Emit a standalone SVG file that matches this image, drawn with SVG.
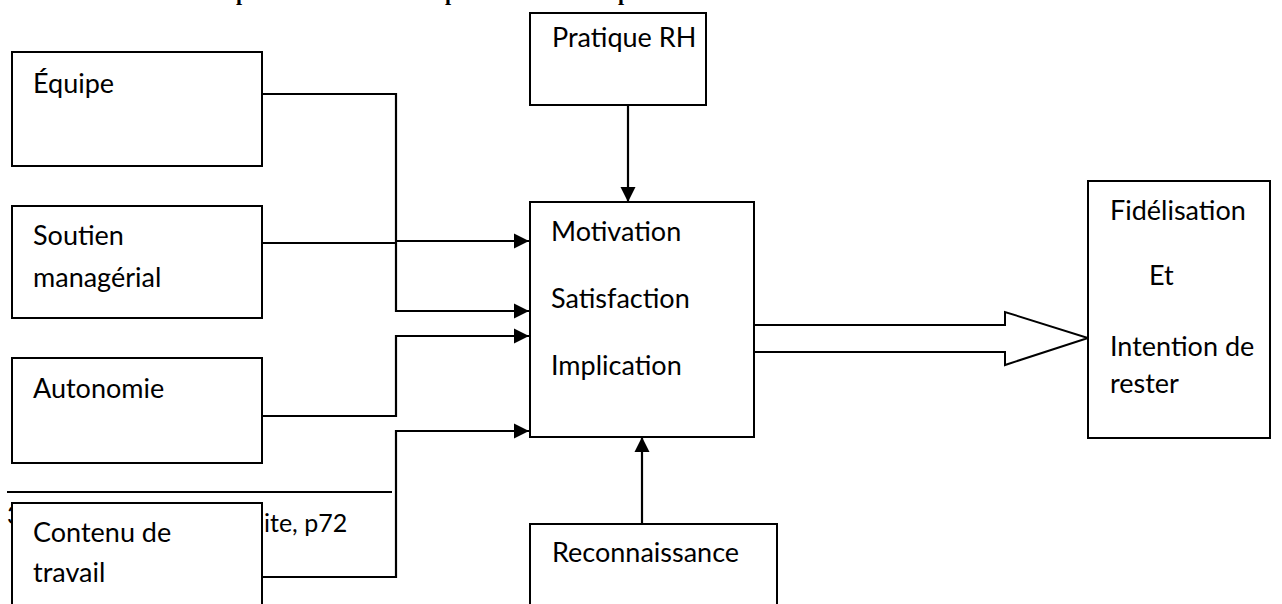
<svg xmlns="http://www.w3.org/2000/svg" width="1282" height="604" viewBox="0 0 1282 604">
  <style>
    .box { fill: #ffffff; stroke: #000000; stroke-width: 2; }
    .lbl { font-family: Lato, "Open Sans", "Liberation Sans", sans-serif; font-size: 27px; fill: #000000; }
    .wire { fill: none; stroke: #000000; stroke-width: 2.2; }
    .head { font-family: "Liberation Serif", serif; font-weight: bold; font-size: 22px; fill: #000000; }
    .note { font-family: Lato, "Open Sans", "Liberation Sans", sans-serif; font-size: 25px; fill: #000000; }
  </style>
  <defs>
    <marker id="tri" viewBox="0 0 10 10" refX="10" refY="5" markerWidth="7" markerHeight="7" markerUnits="strokeWidth" orient="auto">
      <path d="M0,0 L10,5 L0,10 Z" fill="#000000"/>
    </marker>
  </defs>

  <rect width="1282" height="604" fill="#ffffff"/>

  <!-- heading line, mostly above the top edge -->
  <text class="head" y="0"><tspan x="236">p</tspan><tspan x="445">p</tspan><tspan x="618">p</tspan></text>

  <!-- footnote rule and source reference -->
  <g id="footnote">
    <line x1="7" y1="492" x2="392" y2="492" stroke="#000000" stroke-width="2"/>
    <text class="note" x="7" y="524" font-size="14">3</text>
    <text class="note" x="264" y="532">ite, p72</text>
  </g>

  <!-- connectors -->
  <g id="connectors">
    <path class="wire" d="M262,94 H396 V311 H529" marker-end="url(#tri)"/>
    <path class="wire" d="M262,243 H396"/>
    <path class="wire" d="M396,241 H529" marker-end="url(#tri)"/>
    <path class="wire" d="M262,416 H396 V336 H529" marker-end="url(#tri)"/>
    <path class="wire" d="M262,577 H396 V431 H529" marker-end="url(#tri)"/>
    <path class="wire" d="M628,105 V202" marker-end="url(#tri)"/>
    <path class="wire" d="M642,524 V437" marker-end="url(#tri)"/>
    <!-- hollow block arrow to the outcome box -->
    <path d="M754,325 H1005 V312 L1088,338 L1005,365 V352 H754" fill="#ffffff" stroke="#000000" stroke-width="2"/>
  </g>

  <g id="equipe">
    <rect class="box" x="12" y="52" width="250" height="114"/>
    <text class="lbl" x="33" y="93">Équipe</text>
  </g>

  <g id="soutien">
    <rect class="box" x="12" y="206" width="250" height="112"/>
    <text class="lbl" x="33" y="245">Soutien</text>
    <text class="lbl" x="33" y="287">managérial</text>
  </g>

  <g id="autonomie">
    <rect class="box" x="12" y="358" width="250" height="105"/>
    <text class="lbl" x="33" y="398">Autonomie</text>
  </g>

  <g id="contenu">
    <rect class="box" x="12" y="503" width="250" height="110"/>
    <text class="lbl" x="33" y="542">Contenu de</text>
    <text class="lbl" x="33" y="582">travail</text>
  </g>

  <g id="pratique">
    <rect class="box" x="530" y="13" width="176" height="92"/>
    <text class="lbl" x="552" y="47">Pratique RH</text>
  </g>

  <g id="central">
    <rect class="box" x="530" y="202" width="224" height="235"/>
    <text class="lbl" x="551" y="241">Motivation</text>
    <text class="lbl" x="551" y="308">Satisfaction</text>
    <text class="lbl" x="551" y="375">Implication</text>
  </g>

  <g id="reconnaissance">
    <rect class="box" x="530" y="524" width="247" height="100"/>
    <text class="lbl" x="552" y="562">Reconnaissance</text>
  </g>

  <g id="fidelisation">
    <rect class="box" x="1088" y="181" width="182" height="257"/>
    <text class="lbl" x="1110" y="220">Fidélisation</text>
    <text class="lbl" x="1149" y="285">Et</text>
    <text class="lbl" x="1110" y="356">Intention de</text>
    <text class="lbl" x="1110" y="393">rester</text>
  </g>
</svg>
